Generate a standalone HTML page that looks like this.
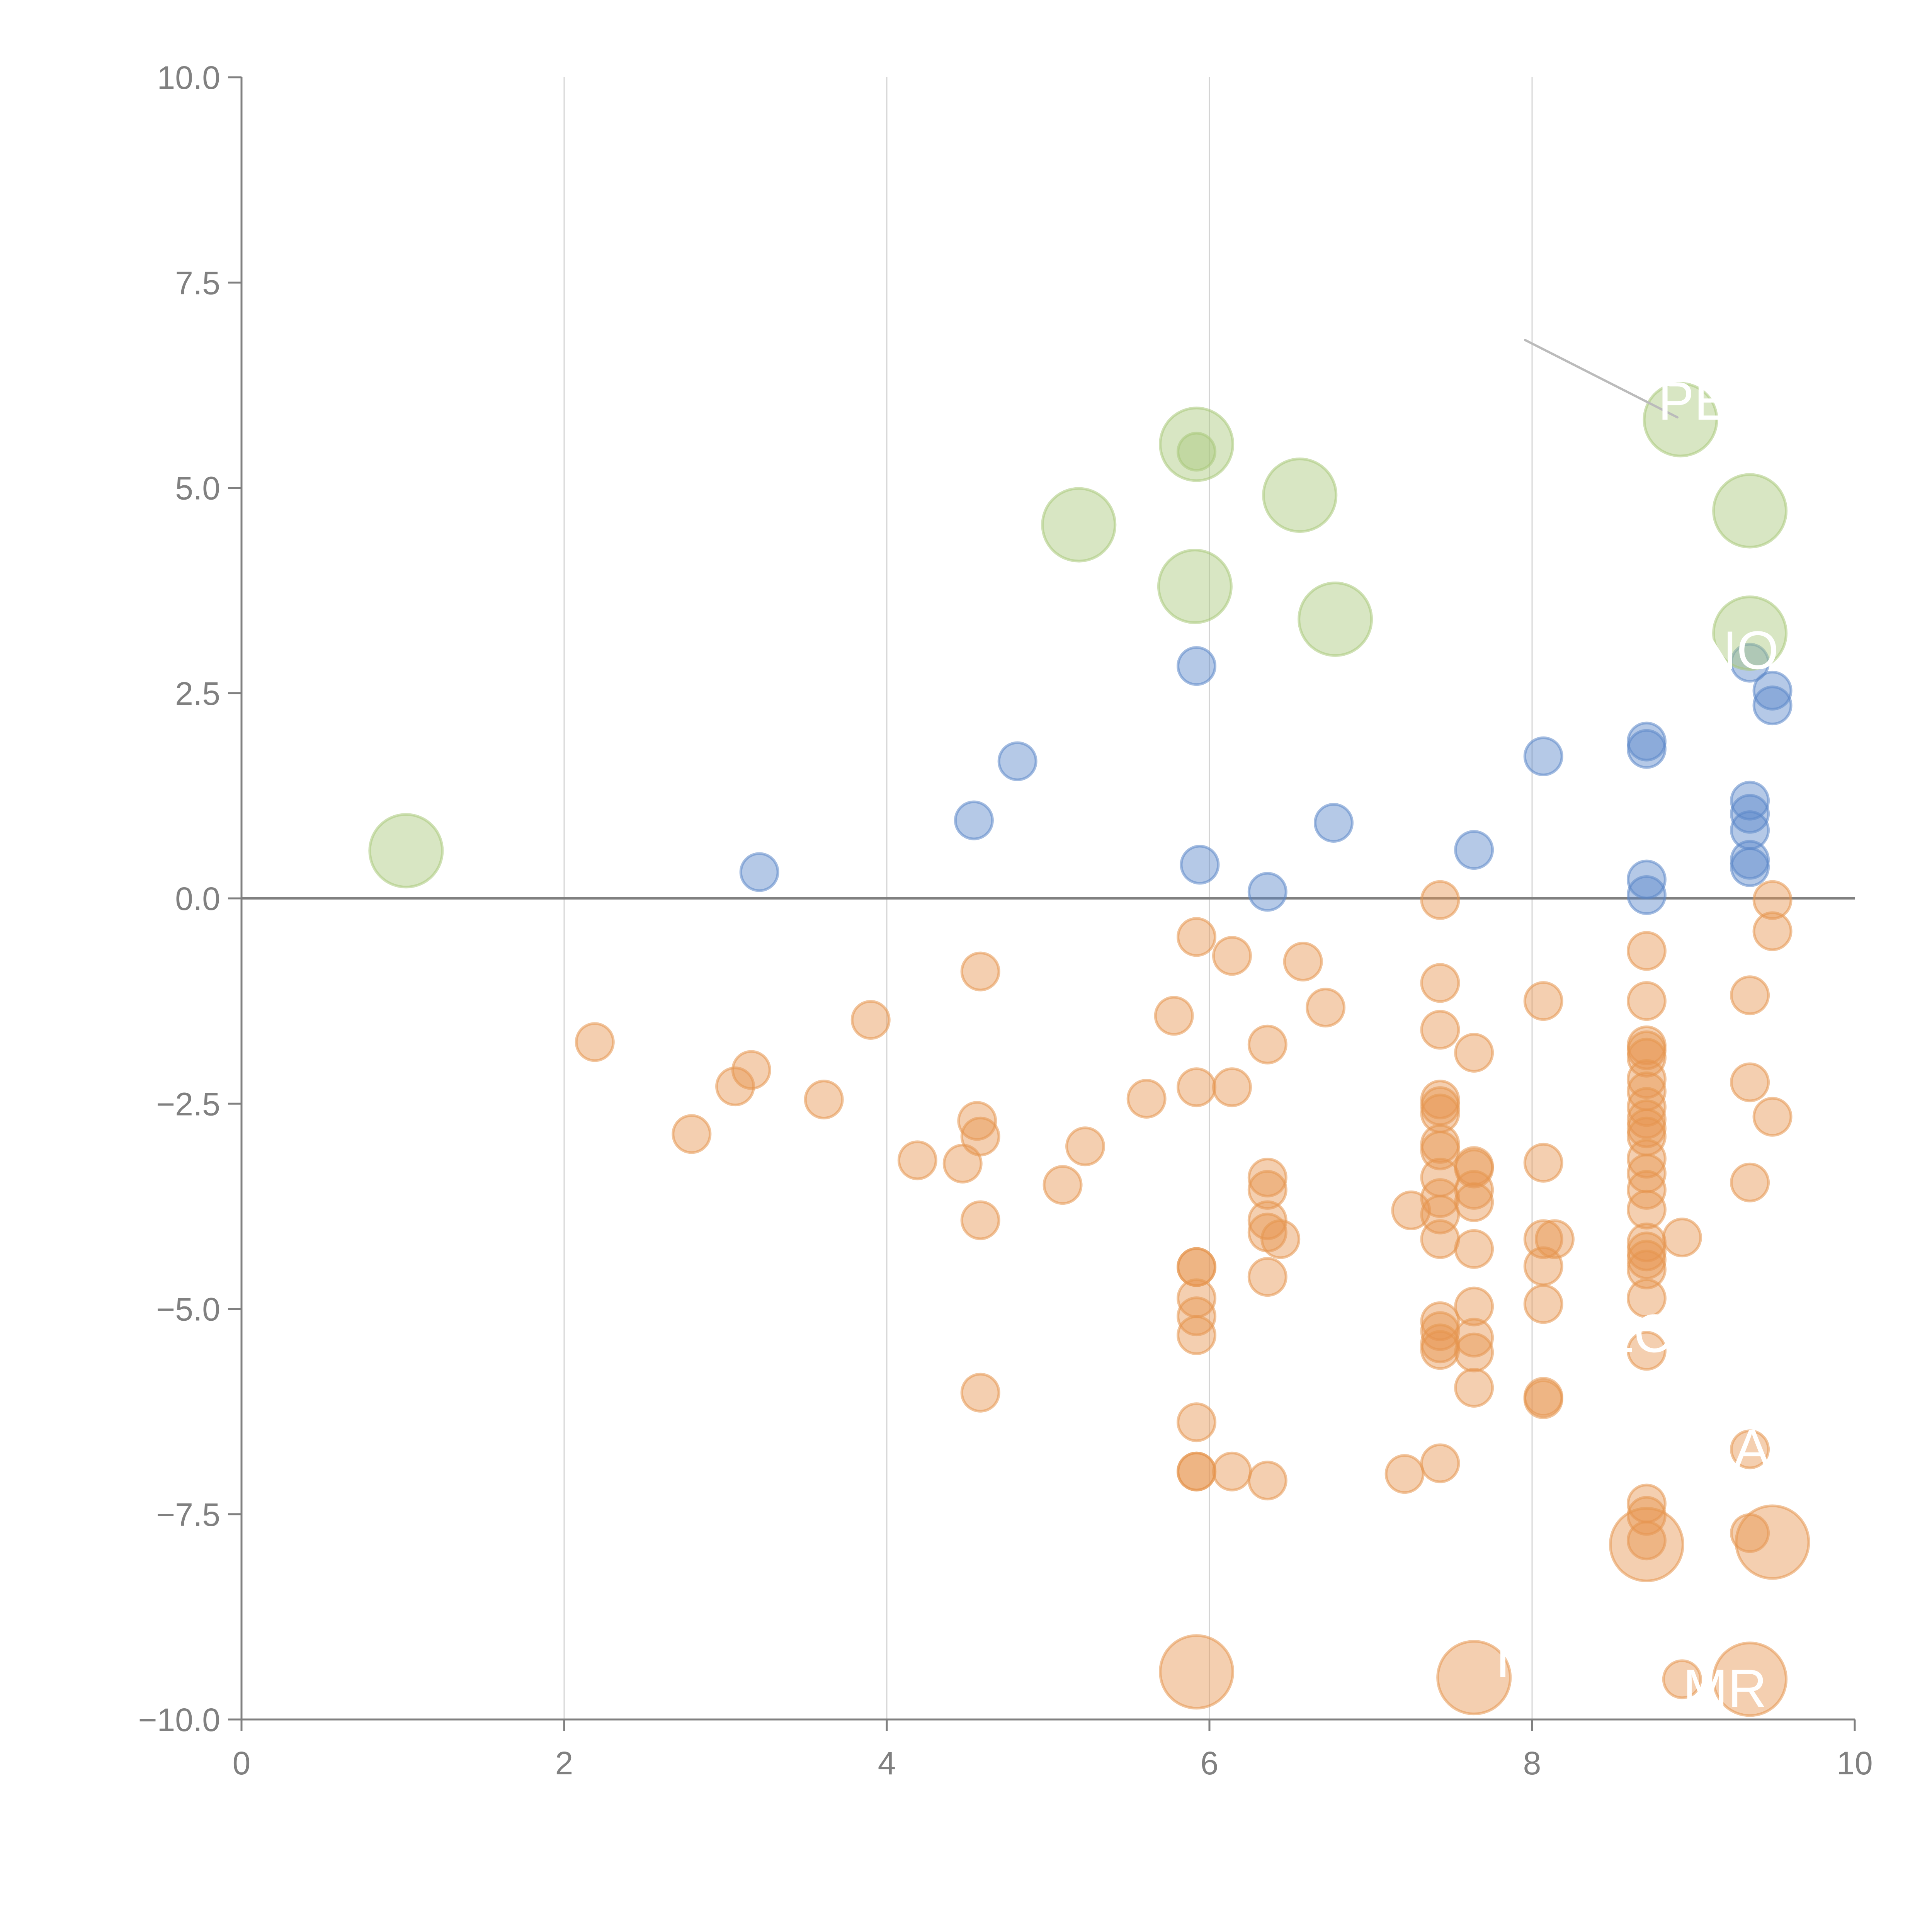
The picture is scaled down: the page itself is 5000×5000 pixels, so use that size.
<!DOCTYPE html>
<html><head><meta charset="utf-8"><style>
html,body{margin:0;padding:0;background:#fff}
svg{display:block}
text{font-family:"Liberation Sans",Arial,sans-serif}
</style></head><body>
<svg id="chart" width="5000" height="5000" viewBox="0 0 5000 5000" xmlns="http://www.w3.org/2000/svg">
<g id="grid"></g>
<g id="axes"></g>
<g id="marks"></g>
<g id="labels"></g>
</svg>
<script>
// data
const greenX = [1.02,5.19,5.92,5.92,5.91,6.56,6.78,8.92,9.35,9.35];
const greenY = [0.58,4.55,5.53,5.44,3.80,4.91,3.40,5.83,4.72,3.23];
const greenSize = [2,2,2,1,2,2,2,2,2,2];
const blueX = [3.21,4.54,4.81,5.92,5.94,6.36,6.77,7.64,8.07,8.71,8.71,8.71,8.71,9.35,9.49,9.49,9.35,9.35,9.35,9.35,9.35];
const blueY = [0.32,0.95,1.67,2.83,0.41,0.08,0.92,0.59,1.73,1.91,1.82,0.23,0.04,2.87,2.53,2.35,1.19,1.03,0.83,0.47,0.38];
const orangeX = [2.19,2.79,3.06,3.16,3.61,3.90,4.19,4.47,4.58,4.56,4.58,4.58,4.58,5.09,5.23,5.61,5.78,
5.92,5.92,5.92,5.92,5.92,5.92,5.92,5.92,5.92,5.92,
6.14,6.14,6.14,6.36,6.36,6.36,6.36,6.36,6.36,6.36,6.44,6.58,6.72,7.21,7.25,
7.43,7.43,7.43,7.43,7.43,7.43,7.43,7.43,7.43,7.43,7.43,7.43,7.43,7.43,7.43,7.43,7.43,
7.64,7.64,7.64,7.64,7.64,7.64,7.64,7.64,7.64,7.64,
8.07,8.07,8.07,8.07,8.07,8.07,8.07,8.14,
8.71,8.71,8.71,8.71,8.71,8.71,8.71,8.71,8.71,8.71,8.71,8.71,8.71,8.71,8.71,8.71,8.71,8.71,8.71,8.71,8.71,8.71,8.71,8.71,
8.93,9.35,9.35,9.35,9.35,9.35,9.49,9.49,9.49,8.93,
5.92,7.64,8.71,9.35,9.49];
const orangeY = [-1.75,-2.87,-2.29,-2.09,-2.45,-1.48,-3.19,-3.23,-0.89,-2.71,-2.90,-3.92,-6.02,-3.49,-3.02,-2.44,-1.43,
-0.47,-2.30,-4.49,-4.49,-4.87,-5.09,-5.32,-6.38,-6.98,-6.98,
-0.70,-2.30,-6.98,-1.78,-3.40,-3.55,-3.92,-4.07,-4.61,-7.09,-4.15,-0.77,-1.33,-7.01,-3.80,
-0.02,-1.03,-1.60,-2.45,-2.53,-2.62,-2.99,-3.07,-3.40,-3.65,-3.85,-4.15,-5.15,-5.27,-5.42,-5.50,-6.88,
-1.88,-3.26,-3.29,-3.55,-3.70,-4.27,-4.97,-5.35,-5.53,-5.96,
-1.25,-3.22,-4.15,-4.48,-4.94,-6.07,-6.10,-4.15,
-0.64,-1.25,-1.79,-1.85,-1.94,-2.20,-2.35,-2.54,-2.69,-2.80,-2.90,-3.17,-3.35,-3.55,-3.79,-4.19,-4.30,-4.40,-4.52,-4.87,-5.51,-7.37,-7.52,-7.82,
-4.13,-1.18,-2.24,-3.46,-6.71,-7.73,-0.02,-0.40,-2.66,-9.51,
-9.42,-9.49,-7.87,-9.51,-7.84];
const orangeSize = orangeX.map((_,i)=> i>=orangeX.length-5 ? 2 : 1);
const xTicks = [0,2,4,6,8,10];
const yTicks = [-10,-7.5,-5,-2.5,0,2.5,5,7.5,10];
const yTickLabels = ["\u221210.0","\u22127.5","\u22125.0","\u22122.5","0.0","2.5","5.0","7.5","10.0"];

const NS="http://www.w3.org/2000/svg";
const L=625,R=4800,T=200,B=4450;
function X(v){return L+(v-0)/(10-0)*(R-L);}
function Y(v){return B-(v+10)/20*(B-T);}
function mk(tag,attrs,parent){const e=document.createElementNS(NS,tag);for(const k in attrs)e.setAttribute(k,attrs[k]);parent.appendChild(e);return e;}
const grid=document.getElementById('grid'),axes=document.getElementById('axes'),marks=document.getElementById('marks'),labels=document.getElementById('labels');

xTicks.forEach(t=>{
  if(t>0&&t<10){const g=mk('line',{x1:X(t),x2:X(t),y1:T,y2:B,stroke:'#d4d4d4','stroke-width':3},grid);
  
  }
  const tk=mk('line',{x1:X(t),x2:X(t),y1:B,y2:B+30,stroke:'#808080','stroke-width':5},axes);
  
  
  const tx=mk('text',{x:X(t),y:B+142,'font-size':84,fill:'#808080','text-anchor':'middle'},axes);
  tx.textContent=t;
  
  
});
yTicks.forEach((t,i)=>{
  const tk=mk('line',{x1:L-35,x2:L,y1:Y(t),y2:Y(t),stroke:'#808080','stroke-width':5},axes);
  
  
  const tx=mk('text',{x:L-55,y:Y(t)+30,'font-size':84,fill:'#808080','text-anchor':'end'},axes);
  tx.textContent=yTickLabels[i];
  
  
});
const ya=mk('line',{x1:L,x2:L,y1:T,y2:B,stroke:'#808080','stroke-width':5},axes);


const xa=mk('line',{x1:L,x2:R,y1:B,y2:B,stroke:'#808080','stroke-width':5},axes);


const zl=mk('line',{x1:L,x2:R,y1:Y(0),y2:Y(0),stroke:'#808080','stroke-width':6},axes);



function series(xs,ys,sz,color,name){
  xs.forEach((x,i)=>{
    const c=mk('circle',{cx:X(x),cy:Y(ys[i]),r:sz[i]===2?94:48,fill:color,'fill-opacity':0.45,stroke:color,'stroke-opacity':0.55,'stroke-width':7},marks);
    
    
  });
}
series(orangeX,orangeY,orangeSize,'#e6954f','orange-bubble');
series(blueX,blueY,blueX.map(()=>1),'#5b87c9','blue-bubble');
series(greenX,greenY,greenSize,'#a9c87a','green-bubble');

// leader lines
const ll=mk('line',{x1:3947,y1:880,x2:4341,y2:1080,stroke:'#bbbbbb','stroke-width':6,'stroke-linecap':'round'},labels);


const labs=[["PE",4291,1086],["KNO",4300,1731],["LC",4150,3499],["A",4487,3797],["MR",4355,4418],["I",3870,4340]];
labs.forEach(l=>{
  const t=mk('text',{x:l[1],y:l[2],'font-size':140,fill:'#ffffff'},labels);
  t.textContent=l[0];
  
  
});
</script>
</body></html>
